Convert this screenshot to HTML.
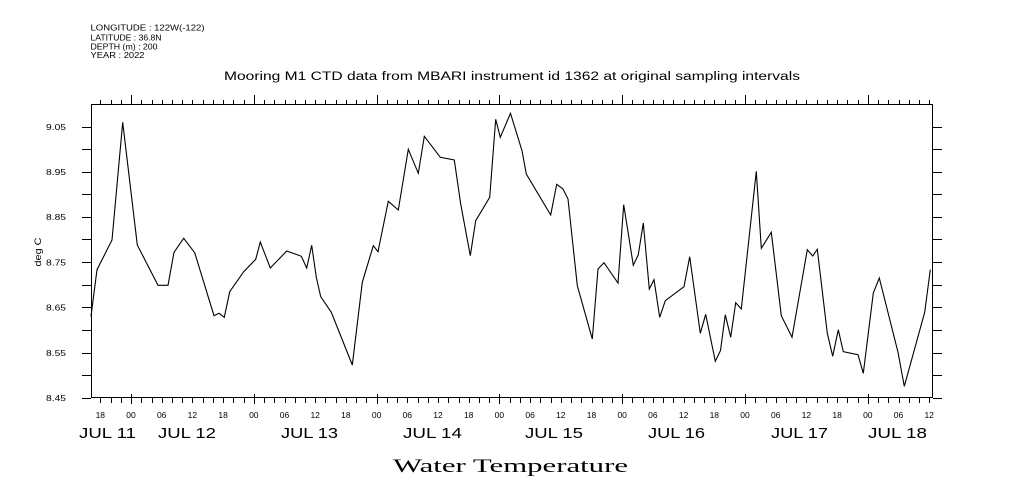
<!DOCTYPE html>
<html>
<head>
<meta charset="utf-8">
<style>
  html, body { margin: 0; padding: 0; background: #fff; }
  svg { display: block; }
  text { font-family: "Liberation Sans", "DejaVu Sans", sans-serif; fill: #000; }
</style>
</head>
<body>
<svg width="1009" height="504" viewBox="0 0 1009 504" xmlns="http://www.w3.org/2000/svg">
  <rect x="0" y="0" width="1009" height="504" fill="#fff"/>

  <!-- header block -->
  <text x="90.5" y="30.5" font-size="8" textLength="114" lengthAdjust="spacingAndGlyphs">LONGITUDE : 122W(-122)</text>
  <text x="90.5" y="40.5" font-size="8" textLength="71" lengthAdjust="spacingAndGlyphs">LATITUDE : 36.8N</text>
  <text x="90.5" y="49.5" font-size="8" textLength="67" lengthAdjust="spacingAndGlyphs">DEPTH (m) : 200</text>
  <text x="90.5" y="58" font-size="8" textLength="54" lengthAdjust="spacingAndGlyphs">YEAR : 2022</text>

  <!-- title -->
  <text x="224" y="80" font-size="11.5" textLength="576" lengthAdjust="spacingAndGlyphs">Mooring M1 CTD data from MBARI instrument id 1362 at original sampling intervals</text>

  <g shape-rendering="crispEdges" stroke="#000" fill="none" stroke-width="1">
    <!-- plot box -->
    <rect x="91.5" y="104.5" width="841" height="293"/>

    <!-- top minor ticks (every 2h) -->
    <path d="M100.5 100V104 M111.5 100V104 M121.5 100V104
      M131.5 100V104 M141.5 100V104 M152.5 100V104 M162.5 100V104 M172.5 100V104 M182.5 100V104 M192.5 100V104 M203.5 100V104 M213.5 100V104 M223.5 100V104 M233.5 100V104 M244.5 100V104
      M254.5 100V104 M264.5 100V104 M274.5 100V104 M285.5 100V104 M295.5 100V104 M305.5 100V104 M315.5 100V104 M325.5 100V104 M336.5 100V104 M346.5 100V104 M356.5 100V104 M366.5 100V104
      M377.5 100V104 M387.5 100V104 M397.5 100V104 M407.5 100V104 M418.5 100V104 M428.5 100V104 M438.5 100V104 M448.5 100V104 M459.5 100V104 M469.5 100V104 M479.5 100V104 M489.5 100V104
      M499.5 100V104 M510.5 100V104 M520.5 100V104 M530.5 100V104 M540.5 100V104 M551.5 100V104 M561.5 100V104 M571.5 100V104 M581.5 100V104 M592.5 100V104 M602.5 100V104 M612.5 100V104
      M622.5 100V104 M632.5 100V104 M643.5 100V104 M653.5 100V104 M663.5 100V104 M673.5 100V104 M684.5 100V104 M694.5 100V104 M704.5 100V104 M714.5 100V104 M725.5 100V104 M735.5 100V104
      M745.5 100V104 M755.5 100V104 M766.5 100V104 M776.5 100V104 M786.5 100V104 M796.5 100V104 M806.5 100V104 M817.5 100V104 M827.5 100V104 M837.5 100V104 M847.5 100V104 M858.5 100V104
      M868.5 100V104 M878.5 100V104 M888.5 100V104 M899.5 100V104 M909.5 100V104 M919.5 100V104 M929.5 100V104"/>

    <!-- bottom minor ticks -->
    <path d="M100.5 398V403 M111.5 398V403 M121.5 398V403
      M131.5 398V403 M141.5 398V403 M152.5 398V403 M162.5 398V403 M172.5 398V403 M182.5 398V403 M192.5 398V403 M203.5 398V403 M213.5 398V403 M223.5 398V403 M233.5 398V403 M244.5 398V403
      M254.5 398V403 M264.5 398V403 M274.5 398V403 M285.5 398V403 M295.5 398V403 M305.5 398V403 M315.5 398V403 M325.5 398V403 M336.5 398V403 M346.5 398V403 M356.5 398V403 M366.5 398V403
      M377.5 398V403 M387.5 398V403 M397.5 398V403 M407.5 398V403 M418.5 398V403 M428.5 398V403 M438.5 398V403 M448.5 398V403 M459.5 398V403 M469.5 398V403 M479.5 398V403 M489.5 398V403
      M499.5 398V403 M510.5 398V403 M520.5 398V403 M530.5 398V403 M540.5 398V403 M551.5 398V403 M561.5 398V403 M571.5 398V403 M581.5 398V403 M592.5 398V403 M602.5 398V403 M612.5 398V403
      M622.5 398V403 M632.5 398V403 M643.5 398V403 M653.5 398V403 M663.5 398V403 M673.5 398V403 M684.5 398V403 M694.5 398V403 M704.5 398V403 M714.5 398V403 M725.5 398V403 M735.5 398V403
      M745.5 398V403 M755.5 398V403 M766.5 398V403 M776.5 398V403 M786.5 398V403 M796.5 398V403 M806.5 398V403 M817.5 398V403 M827.5 398V403 M837.5 398V403 M847.5 398V403 M858.5 398V403
      M868.5 398V403 M878.5 398V403 M888.5 398V403 M899.5 398V403 M909.5 398V403 M919.5 398V403 M929.5 398V403"/>

    <!-- major ticks at 00 -->
    <path d="M131.5 95V104 M254.5 95V104 M377.5 95V104 M499.5 95V104 M622.5 95V104 M745.5 95V104 M868.5 95V104
             M131.5 394V404 M254.5 394V404 M377.5 394V404 M499.5 394V404 M622.5 394V404 M745.5 394V404 M868.5 394V404"/>

    <!-- y ticks left and right -->
    <path d="M82 398.5H91 M82 375.5H91 M82 353.5H91 M82 330.5H91 M82 307.5H91 M82 285.5H91 M82 262.5H91 M82 239.5H91 M82 217.5H91 M82 194.5H91 M82 172.5H91 M82 149.5H91 M82 127.5H91
             M933 398.5H942 M933 375.5H942 M933 353.5H942 M933 330.5H942 M933 307.5H942 M933 285.5H942 M933 262.5H942 M933 239.5H942 M933 217.5H942 M933 194.5H942 M933 172.5H942 M933 149.5H942 M933 127.5H942"/>
  </g>

  <!-- y labels -->
  <g font-size="8.5" text-anchor="end">
    <text x="66" y="401" textLength="20" lengthAdjust="spacingAndGlyphs">8.45</text>
    <text x="66" y="355.8" textLength="20" lengthAdjust="spacingAndGlyphs">8.55</text>
    <text x="66" y="310.6" textLength="20" lengthAdjust="spacingAndGlyphs">8.65</text>
    <text x="66" y="265.4" textLength="20" lengthAdjust="spacingAndGlyphs">8.75</text>
    <text x="66" y="220.2" textLength="20" lengthAdjust="spacingAndGlyphs">8.85</text>
    <text x="66" y="175" textLength="20" lengthAdjust="spacingAndGlyphs">8.95</text>
    <text x="66" y="129.8" textLength="20" lengthAdjust="spacingAndGlyphs">9.05</text>
  </g>

  <!-- y axis title -->
  <text transform="translate(41,252) rotate(-90)" x="0" y="0" font-size="9.5" text-anchor="middle" textLength="29" lengthAdjust="spacingAndGlyphs">deg C</text>

  <!-- hour labels -->
  <g font-size="8.5" text-anchor="middle">
    <text x="100.3" y="418">18</text>
    <text x="131" y="418">00</text>
    <text x="161.7" y="418">06</text>
    <text x="192.4" y="418">12</text>
    <text x="223.1" y="418">18</text>
    <text x="253.8" y="418">00</text>
    <text x="284.5" y="418">06</text>
    <text x="315.2" y="418">12</text>
    <text x="345.9" y="418">18</text>
    <text x="376.6" y="418">00</text>
    <text x="407.3" y="418">06</text>
    <text x="438" y="418">12</text>
    <text x="468.7" y="418">18</text>
    <text x="499.4" y="418">00</text>
    <text x="530.1" y="418">06</text>
    <text x="560.8" y="418">12</text>
    <text x="591.5" y="418">18</text>
    <text x="622.2" y="418">00</text>
    <text x="652.9" y="418">06</text>
    <text x="683.6" y="418">12</text>
    <text x="714.3" y="418">18</text>
    <text x="745" y="418">00</text>
    <text x="775.7" y="418">06</text>
    <text x="806.4" y="418">12</text>
    <text x="837.1" y="418">18</text>
    <text x="867.8" y="418">00</text>
    <text x="898.5" y="418">06</text>
    <text x="929.2" y="418">12</text>
  </g>

  <!-- day labels -->
  <g font-size="15">
    <text x="79" y="438" textLength="57" lengthAdjust="spacingAndGlyphs">JUL 11</text>
    <text x="158" y="438" textLength="58" lengthAdjust="spacingAndGlyphs">JUL 12</text>
    <text x="281" y="438" textLength="57" lengthAdjust="spacingAndGlyphs">JUL 13</text>
    <text x="403" y="438" textLength="59" lengthAdjust="spacingAndGlyphs">JUL 14</text>
    <text x="525" y="438" textLength="58" lengthAdjust="spacingAndGlyphs">JUL 15</text>
    <text x="648" y="438" textLength="57" lengthAdjust="spacingAndGlyphs">JUL 16</text>
    <text x="771" y="438" textLength="57" lengthAdjust="spacingAndGlyphs">JUL 17</text>
    <text x="868" y="438" textLength="59" lengthAdjust="spacingAndGlyphs">JUL 18</text>
  </g>

  <!-- bottom title -->
  <text x="393" y="472" font-size="19" style="font-family:'Liberation Serif','DejaVu Serif',serif" textLength="235" lengthAdjust="spacingAndGlyphs">Water Temperature</text>

  <!-- data series -->
  <polyline fill="none" stroke="#000" stroke-width="1.1" stroke-linejoin="miter"
    points="91,316.3 97,269.7 112,240 122.7,122.3 137.3,245 158,285.3 168,285.3 174,252.3 183.7,238.3 194.7,252.7 214,315.7 219,313.3 224.3,317.3 229.7,291.7 243.7,271.7 255.7,259.3 260.3,242 270.3,268 286.7,251 298,255 301.3,256.3 306.7,268 311.7,245.3 316.3,277.3 320.7,296.7 331.3,312.3 352.3,365 362.3,282.3 373.3,245.7 378,251.7 388.3,201.3 398.3,210 408.3,149.3 418.3,173.3 424.3,136.3 440.3,157.3 454.3,160 460.7,204 470.3,255.7 475.7,220.7 489.7,197.3 495.7,119.3 500.3,137.3 510.5,113.3 522,150.7 526.3,174 550.7,215 556.7,184.3 563,189 568,199 577.3,285.7 592.3,339 598,269 604,262.7 618,283 623.7,204.7 633.3,265.3 638.3,254.7 643.3,223 649.3,289 654,279.7 659.7,317.3 665.3,300.7 684,286.7 689.7,256.7 700.3,333.3 705.7,314.3 715.3,361.3 720.5,350.5 725.3,314.7 730.7,337.3 735.7,302.7 741.3,309 756.3,171.3 761.3,248.3 771.3,232.3 781.3,315.7 792,337.3 807.3,249.7 812.7,256 817.3,249.3 827.3,333.3 832.7,356.3 838.3,329.7 843.3,351.7 858,354.7 863.3,373.3 873.3,293 879.3,278 898,352.3 904.3,386.3 924.7,312.3 930.3,269.7"/>
</svg>
</body>
</html>
